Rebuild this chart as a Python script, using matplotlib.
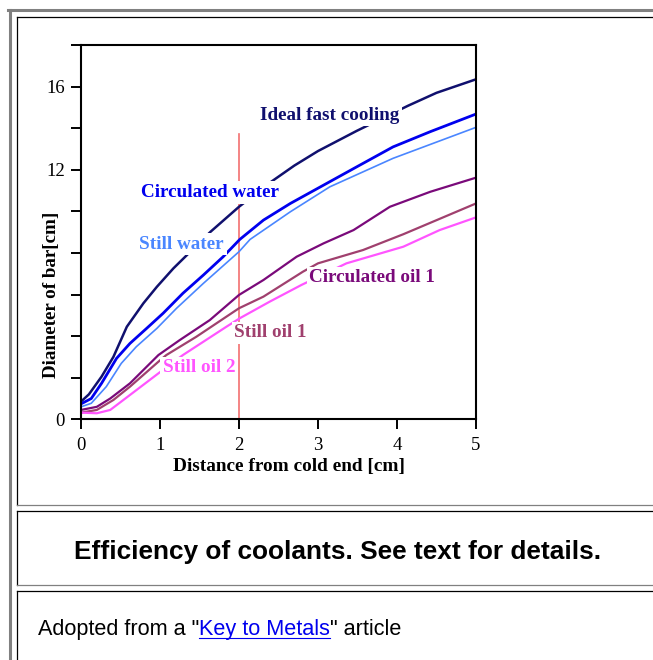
import matplotlib.pyplot as plt
from matplotlib.lines import Line2D

# figure size in pixels (saved at dpi 100)
W, H = 653, 660

# curves: distance from cold end [cm] vs diameter [cm]
ideal_x = [0, 0.1, 0.26, 0.41, 0.58, 0.79, 0.96, 1.17, 1.32, 1.64, 2.0, 2.41, 2.7, 3.0, 3.49, 4.14, 4.5, 5.0]
ideal_y = [0.85, 1.2, 2.05, 3.0, 4.45, 5.58, 6.37, 7.26, 7.82, 9.02, 10.22, 11.43, 12.2, 12.9, 13.87, 15.08, 15.7, 16.35]

circ_water_x = [0, 0.13, 0.26, 0.45, 0.62, 0.83, 1.04, 1.29, 1.55, 1.8, 2.01, 2.31, 2.65, 3.07, 3.49, 3.95, 4.42, 5.0]
circ_water_y = [0.74, 1.0, 1.73, 2.93, 3.65, 4.37, 5.1, 6.06, 6.94, 7.82, 8.65, 9.58, 10.38, 11.26, 12.14, 13.1, 13.83, 14.68]

still_water_x = [0, 0.13, 0.32, 0.51, 0.7, 0.96, 1.21, 1.55, 2.0, 2.14, 2.65, 3.15, 3.95, 5.0]
still_water_y = [0.6, 0.77, 1.57, 2.69, 3.49, 4.37, 5.34, 6.54, 8.06, 8.65, 9.98, 11.18, 12.55, 14.04]

circ_oil_x = [0, 0.2, 0.37, 0.62, 0.98, 1.25, 1.63, 2.0, 2.31, 2.73, 3.07, 3.45, 3.91, 4.42, 5.0]
circ_oil_y = [0.45, 0.6, 1.0, 1.73, 3.09, 3.81, 4.77, 5.98, 6.7, 7.82, 8.46, 9.1, 10.22, 10.94, 11.62]

still_oil1_x = [0, 0.2, 0.41, 0.62, 0.98, 1.08, 1.46, 2.0, 2.31, 2.81, 3.0, 3.57, 4.08, 5.0]
still_oil1_y = [0.32, 0.45, 0.93, 1.57, 2.77, 3.09, 3.97, 5.34, 5.9, 7.1, 7.5, 8.14, 8.9, 10.38]

still_oil2_x = [0, 0.2, 0.37, 0.62, 0.98, 1.29, 1.84, 2.01, 2.39, 2.79, 3.36, 4.08, 4.54, 5.0]
still_oil2_y = [0.32, 0.29, 0.45, 1.17, 2.21, 3.09, 4.45, 4.86, 5.66, 6.46, 7.5, 8.3, 9.1, 9.71]

x_ticks = [0, 1, 2, 3, 4, 5]
y_ticks = [0, 2, 4, 6, 8, 10, 12, 14, 16, 18]
y_ticklabels = ['0', '', '', '', '', '', '12', '', '16', '']
marker_x = 2

serif = 'Liberation Serif'
sans = 'Liberation Sans'


def fx(px):
    return px / W


def fy(py):
    return 1 - py / H


fig = plt.figure(figsize=(W / 100, H / 100), dpi=100)

# page frames (gray outer border, boxed table cells)
gray = '#808080'
fig.add_artist(Line2D([fx(9.5), fx(9.5)], [fy(660), fy(9.5)], color=gray, lw=2.2))
fig.add_artist(Line2D([fx(8), fx(653)], [fy(9.5), fy(9.5)], color=gray, lw=2.2))
for top, bottom in [(16.5, 504.5), (510.5, 584.5), (590.5, 661)]:
    fig.add_artist(Line2D([fx(16.5), fx(653)], [fy(top), fy(top)], color='black', lw=0.9))
    fig.add_artist(Line2D([fx(16.5), fx(16.5)], [fy(top), fy(bottom)], color='black', lw=0.9))
    fig.add_artist(Line2D([fx(16.5), fx(653)], [fy(bottom), fy(bottom)], color=gray, lw=0.9))

ax = fig.add_axes([fx(81), fy(419.3), (476 - 81) / W, (419.3 - 45) / H])

ax.plot(ideal_x, ideal_y, color='#10106E', lw=1.8)
ax.plot(circ_water_x, circ_water_y, color='#0000EE', lw=2.0)
ax.plot(still_water_x, still_water_y, color='#4A86FF', lw=1.2)
ax.plot(circ_oil_x, circ_oil_y, color='#7A0A7A', lw=1.6)
ax.plot(still_oil1_x, still_oil1_y, color='#A0406E', lw=1.6)
ax.plot(still_oil2_x, still_oil2_y, color='#FF55FF', lw=1.6)
ax.plot([marker_x, marker_x], [0, 13.7], color='#F27070', lw=1.2, zorder=1.5)

labels = [
    ('Ideal fast cooling', 2.27, 14.62, '#10106E'),
    ('Circulated water', 0.76, 10.9, '#0000EE'),
    ('Still water', 0.74, 8.43, '#4A86FF'),
    ('Circulated oil 1', 2.89, 6.81, '#7A0A7A'),
    ('Still oil 1', 1.94, 4.16, '#A0406E'),
    ('Still oil 2', 1.04, 2.48, '#FF55FF'),
]
for txt, lx, ly, c in labels:
    ax.text(lx, ly, txt, color=c, family=serif, fontweight='bold', fontsize=13.8,
            ha='left', va='center', zorder=4,
            bbox=dict(facecolor='white', edgecolor='none', pad=2.0))

ax.set_xlim(0, 5)
ax.set_ylim(0, 18)
ax.set_xticks(x_ticks)
ax.set_xticklabels([str(v) for v in x_ticks])
ax.set_yticks(y_ticks)
ax.set_yticklabels(y_ticklabels)
for s in ax.spines.values():
    s.set_linewidth(1.5)
ax.tick_params(direction='out', length=7, width=1.4, labelsize=13.5, pad=4.5)
ax.tick_params(axis='x', pad=5.5)
for lab in ax.get_xticklabels() + ax.get_yticklabels():
    lab.set_family(serif)

fig.text(fx(288.5), fy(467), 'Distance from cold end [cm]', family=serif, fontweight='bold',
         fontsize=13.9, ha='center', va='center')
fig.text(fx(52), fy(378), 'Diameter of bar[cm]', family=serif, fontweight='bold',
         fontsize=13.7, rotation=90, ha='center', va='bottom')

# caption cell
fig.text(fx(338), fy(552), 'Efficiency of coolants. See text for details.', family=sans,
         fontweight='bold', fontsize=18.9, ha='center', va='center')

# source cell, with the link part in blue and underlined
fig.canvas.draw()
r = fig.canvas.get_renderer()
fs = 15.6
ty = fy(629.5)
t1 = fig.text(fx(38), ty, 'Adopted from a "', family=sans, fontsize=fs, va='center')
bb1 = t1.get_window_extent(r)
t2 = fig.text(bb1.x1 / W, ty, 'Key to Metals', family=sans, fontsize=fs, va='center', color='#0000EE')
bb2 = t2.get_window_extent(r)
fig.text(bb2.x1 / W, ty, '" article', family=sans, fontsize=fs, va='center')
fig.add_artist(Line2D([bb2.x0 / W, bb2.x1 / W], [(bb2.y0 + 2.5) / H, (bb2.y0 + 2.5) / H],
                      color='#0000EE', lw=0.8))

fig.savefig('out.png', dpi=100)
